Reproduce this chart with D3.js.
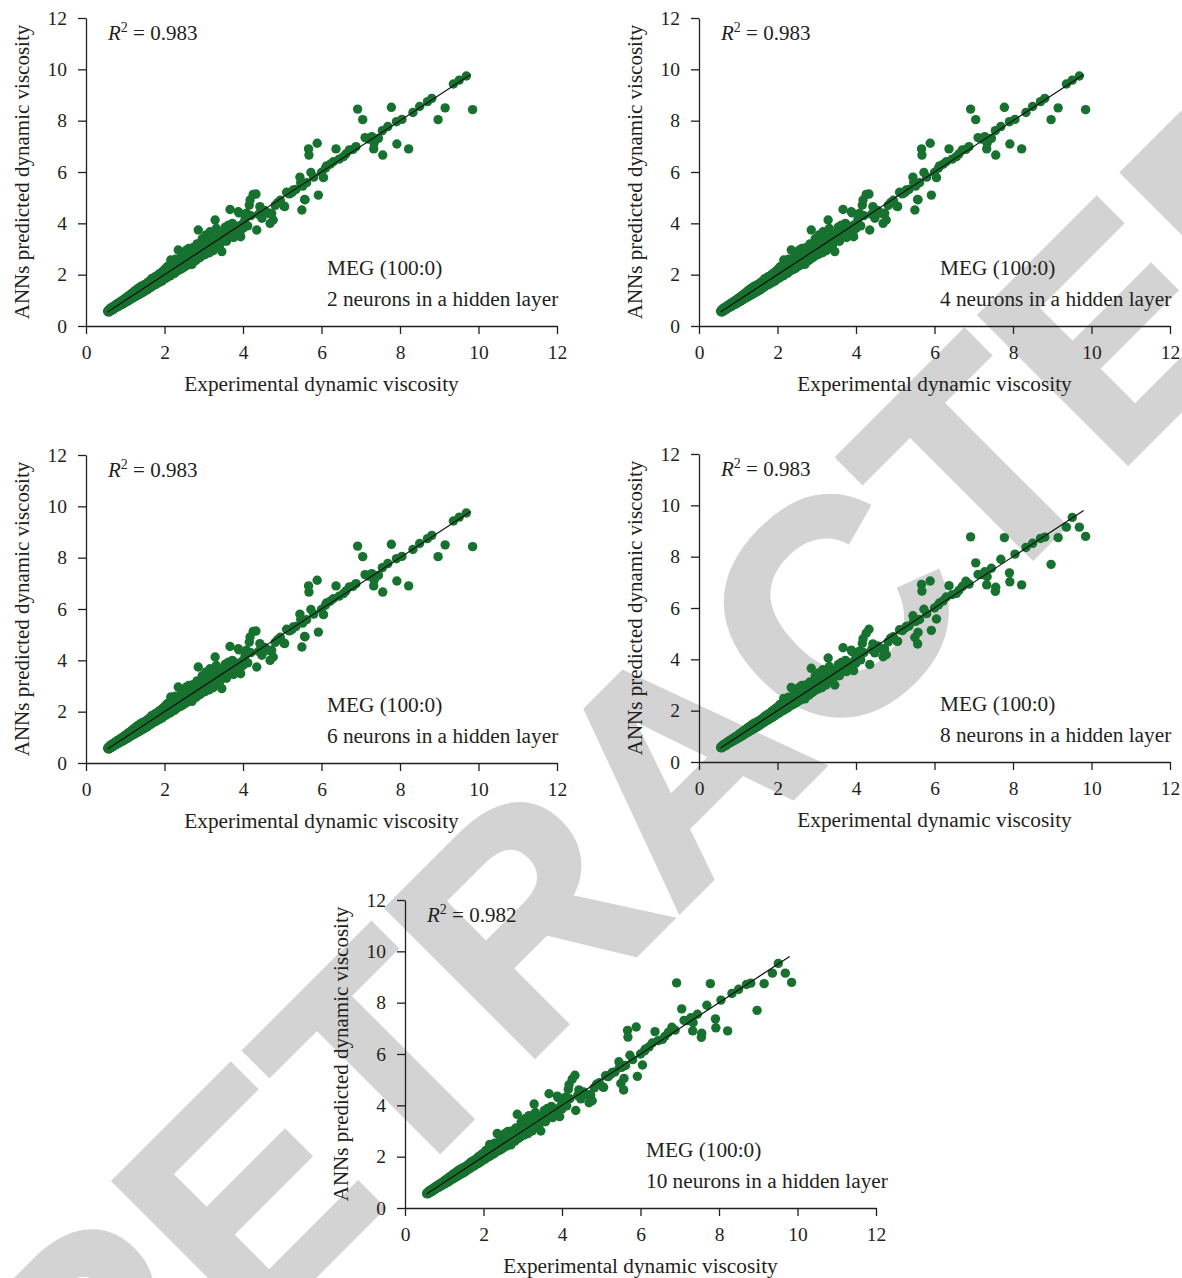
<!DOCTYPE html>
<html>
<head>
<meta charset="utf-8">
<script src="https://cdn.jsdelivr.net/npm/d3@7"></script>
<style>
  body { margin: 0; background: #fff; }
  svg { display: block; }
</style>
</head>
<body>
<svg id="chart" width="1182" height="1278"></svg>
<script>
// Experimental dynamic viscosity (shared by every network)
const expVisc = [
  0.55, 0.57, 0.58, 0.60, 0.61, 0.63, 0.64, 0.66, 0.67, 0.69,
  0.70, 0.72, 0.73, 0.75, 0.76, 0.78, 0.79, 0.81, 0.82, 0.84,
  0.85, 0.87, 0.88, 0.90, 0.91, 0.93, 0.94, 0.96, 0.97, 0.99,
  1.00, 1.02, 1.03, 1.05, 1.06, 1.08, 1.09, 1.11, 1.12, 1.14,
  1.15, 1.17, 1.18, 1.20, 1.21, 1.23, 1.24, 1.26, 1.27, 1.29,
  1.30, 1.32, 1.33, 1.35, 1.36, 1.38, 1.40, 1.42, 1.43, 1.45,
  1.47, 1.48, 1.50, 1.52, 1.54, 1.55, 1.57, 1.59, 1.60, 1.62,
  1.64, 1.65, 1.67, 1.69, 1.70, 1.72, 1.74, 1.76, 1.78, 1.80,
  1.82, 1.84, 1.86, 1.88, 1.90, 1.92, 1.94, 1.96, 1.98, 2.00,
  2.02, 2.04, 2.06, 2.08, 2.10, 2.12, 2.14, 2.16, 2.18, 2.20,
  2.22, 2.25, 2.28, 2.30, 2.33, 2.35, 2.37, 2.40, 2.42, 2.45,
  2.48, 2.50, 2.52, 2.55, 2.57, 2.60, 2.62, 2.65, 2.68, 2.70,
  2.72, 2.75, 2.78, 2.80, 2.83, 2.86, 2.88, 2.90, 2.93, 2.96,
  2.98, 3.00, 3.03, 3.06, 3.08, 3.10, 3.13, 3.16, 3.18, 3.21,
  3.24, 3.27, 3.29, 3.32, 3.35, 3.38, 3.42, 3.46, 3.50, 3.52,
  1.25, 1.55, 1.75, 1.85, 2.05, 2.15, 2.26, 2.38, 2.46, 2.58,
  2.64, 2.74, 2.85, 2.95, 3.02, 3.12, 3.22, 3.40, 3.60, 3.68,
  3.55, 3.58, 3.63, 3.67, 3.70, 3.73, 3.76, 3.80, 3.85, 3.88,
  3.90, 3.94, 3.97, 4.00, 4.05, 4.09, 4.12, 4.16, 4.18, 4.20,
  4.26, 4.33, 4.35, 4.40, 4.43, 4.48, 4.55, 4.60, 4.65, 4.69,
  4.73, 4.77, 4.82, 4.88, 4.95, 5.04, 5.06, 5.11, 5.18, 5.25,
  5.28, 5.35, 5.45, 5.47, 5.50, 5.52, 5.57, 5.58, 5.62, 5.67,
  5.68, 5.73, 5.80, 5.89, 5.92, 6.00, 6.05, 6.10, 6.13, 6.22,
  6.30, 6.37, 6.45, 6.56, 6.62, 6.71, 6.80, 6.88, 6.92, 7.05,
  7.11, 7.20, 7.28, 7.33, 7.34, 7.45, 7.55, 7.56, 7.69, 7.78,
  7.91, 7.92, 8.05, 8.22, 8.33, 8.50, 8.70, 8.81, 8.97, 9.15,
  9.36, 9.51, 9.69, 9.85
];

// ANN predictions with 2, 4 and 6 hidden neurons
const predFewNeurons = [
  0.57, 0.62, 0.54, 0.66, 0.58, 0.70, 0.60, 0.72, 0.63, 0.75,
  0.66, 0.79, 0.69, 0.81, 0.71, 0.85, 0.74, 0.88, 0.76, 0.90,
  0.79, 0.94, 0.82, 0.97, 0.84, 1.00, 0.86, 1.03, 0.90, 1.06,
  0.92, 1.10, 0.95, 1.13, 0.97, 1.17, 1.00, 1.20, 1.03, 1.23,
  1.06, 1.27, 1.08, 1.30, 1.11, 1.35, 1.13, 1.38, 1.16, 1.42,
  1.19, 1.45, 1.21, 1.48, 1.24, 1.52, 1.27, 1.56, 1.30, 1.40,
  1.58, 1.34, 1.62, 1.38, 1.50, 1.66, 1.42, 1.72, 1.47, 1.58,
  1.76, 1.50, 1.84, 1.55, 1.68, 1.86, 1.60, 1.92, 1.62, 1.75,
  1.96, 1.68, 2.02, 1.72, 1.84, 2.08, 1.76, 2.14, 1.82, 1.95,
  2.22, 1.86, 2.30, 1.92, 2.05, 2.35, 1.95, 2.57, 2.00, 2.15,
  2.42, 2.05, 2.60, 2.12, 2.30, 2.96, 2.18, 2.65, 2.22, 2.40,
  2.80, 2.30, 2.58, 2.95, 2.36, 2.55, 3.02, 2.42, 2.75, 2.40,
  3.05, 2.60, 2.88, 2.55, 3.20, 3.74, 2.65, 3.10, 2.70, 3.40,
  2.82, 3.25, 2.78, 3.55, 2.95, 3.30, 2.85, 3.67, 3.05, 3.45,
  2.93, 3.30, 4.13, 3.80, 3.10, 3.55, 3.20, 2.90, 3.61, 3.40,
  1.22, 1.45, 1.70, 1.80, 2.00, 2.25, 2.18, 2.45, 2.25, 2.70,
  2.50, 2.85, 2.75, 2.98, 3.05, 3.15, 3.10, 3.38, 3.70, 3.55,
  3.85, 3.30, 3.93, 4.54, 3.60, 4.00, 3.45, 3.90, 3.70, 4.45,
  4.41, 3.48, 3.95, 3.80, 4.15, 4.39, 3.90, 4.71, 4.91, 4.30,
  5.13, 5.14, 3.74, 4.35, 4.65, 4.20, 4.50, 4.42, 4.39, 4.00,
  4.39, 4.13, 4.70, 4.80, 4.90, 4.68, 4.65, 5.21, 5.15, 5.20,
  5.30, 5.32, 5.80, 5.59, 4.52, 5.45, 4.93, 4.92, 5.58, 6.90,
  6.66, 5.98, 5.80, 7.12, 5.10, 5.98, 5.78, 6.15, 6.24, 6.30,
  6.40, 6.90, 6.50, 6.60, 6.70, 6.86, 6.88, 6.99, 8.45, 8.04,
  7.34, 7.28, 7.38, 6.90, 7.12, 7.31, 7.61, 6.66, 7.77, 8.52,
  7.96, 7.09, 8.05, 6.90, 8.32, 8.55, 8.74, 8.87, 8.04, 8.50,
  9.43, 9.58, 9.74, 8.43
];

// ANN predictions with 8 and 10 hidden neurons
const predManyNeurons = [
  0.56, 0.60, 0.55, 0.64, 0.59, 0.68, 0.62, 0.70, 0.63, 0.74,
  0.67, 0.76, 0.70, 0.80, 0.72, 0.83, 0.75, 0.86, 0.78, 0.89,
  0.80, 0.92, 0.83, 0.95, 0.85, 0.98, 0.88, 1.01, 0.91, 1.04,
  0.93, 1.08, 0.96, 1.11, 0.99, 1.14, 1.01, 1.18, 1.04, 1.21,
  1.07, 1.24, 1.10, 1.28, 1.13, 1.32, 1.15, 1.34, 1.18, 1.38,
  1.21, 1.41, 1.24, 1.45, 1.26, 1.48, 1.30, 1.52, 1.33, 1.41,
  1.55, 1.37, 1.58, 1.41, 1.52, 1.62, 1.45, 1.67, 1.50, 1.60,
  1.72, 1.53, 1.78, 1.58, 1.70, 1.82, 1.62, 1.86, 1.66, 1.78,
  1.92, 1.72, 1.98, 1.76, 1.87, 2.04, 1.80, 2.10, 1.86, 1.98,
  2.16, 1.90, 2.24, 1.96, 2.08, 2.30, 2.00, 2.48, 2.04, 2.18,
  2.36, 2.10, 2.52, 2.16, 2.33, 2.90, 2.22, 2.58, 2.26, 2.44,
  2.72, 2.34, 2.56, 2.90, 2.40, 2.60, 2.98, 2.46, 2.72, 2.46,
  3.00, 2.64, 2.86, 2.60, 3.12, 3.65, 2.70, 3.06, 2.76, 3.35,
  2.86, 3.22, 2.84, 3.48, 3.00, 3.28, 2.90, 3.60, 3.10, 3.40,
  3.00, 3.32, 4.05, 3.72, 3.18, 3.50, 3.25, 3.00, 3.58, 3.44,
  1.24, 1.48, 1.72, 1.82, 2.02, 2.20, 2.22, 2.40, 2.30, 2.66,
  2.55, 2.80, 2.78, 2.95, 3.04, 3.12, 3.15, 3.40, 3.66, 3.60,
  3.80, 3.36, 3.88, 4.45, 3.64, 3.96, 3.52, 3.86, 3.74, 4.36,
  4.30, 3.56, 3.98, 3.86, 4.12, 4.32, 3.98, 4.62, 4.80, 4.26,
  5.02, 5.17, 3.80, 4.38, 4.60, 4.25, 4.52, 4.45, 4.42, 4.10,
  4.40, 4.18, 4.68, 4.82, 4.88, 4.72, 4.70, 5.15, 5.12, 5.22,
  5.28, 5.30, 5.70, 5.50, 4.85, 5.48, 4.60, 5.05, 5.55, 6.92,
  6.66, 5.95, 5.78, 7.05, 5.13, 6.00, 5.57, 6.12, 6.20, 6.28,
  6.43, 6.87, 6.52, 6.57, 6.68, 6.84, 7.04, 6.93, 8.77, 7.76,
  7.31, 7.30, 7.41, 6.90, 7.22, 7.55, 6.65, 6.81, 7.90, 8.74,
  7.37, 7.02, 8.10, 6.90, 8.36, 8.52, 8.71, 8.76, 7.70, 8.74,
  9.15, 9.53, 9.15, 8.79
];

const neuronCounts = [2, 4, 6, 8, 10];
const r2Values = ["0.983", "0.983", "0.983", "0.983", "0.982"];
const tickValues = [0, 2, 4, 6, 8, 10, 12];
const fitLine = [0.55, 9.8];           // y = x reference line, start and end
const fluidLabel = "MEG (100:0)";
const xTitle = "Experimental dynamic viscosity";
const yTitle = "ANNs predicted dynamic viscosity";
const watermark = "RETRACTED";

// ---- layout ----
const svg = d3.select("#chart");
const W = 471, H = 308;
const origins = [[86, 18], [699, 18], [86, 455], [699, 454], [405, 900]];
const serif = "'Liberation Serif', 'Times New Roman', serif";
const ink = "#231f20";
const green = "#17712f";

// Grey diagonal stamp behind the panels (baseline runs at 45° up to the right)
svg.append("text")
  .attr("transform", "translate(752,838) rotate(-45)")
  .attr("text-anchor", "middle")
  .style("font-family", "'Liberation Sans', Arial, sans-serif")
  .style("font-weight", "bold")
  .style("font-size", "302px")
  .style("fill", "#d3d3d3")
  .style("stroke", "#d3d3d3")
  .style("stroke-width", 6)
  .style("stroke-linejoin", "miter")
  .text(watermark);

const x = d3.scaleLinear().domain([0, 12]).range([0, W]);
const y = d3.scaleLinear().domain([0, 12]).range([H, 0]);

neuronCounts.forEach((n, i) => {
  const pred = n <= 6 ? predFewNeurons : predManyNeurons;
  const pts = expVisc.map((v, k) => [v, pred[k]]);
  const g = svg.append("g").attr("transform", `translate(${origins[i][0]},${origins[i][1]})`);

  // axes
  const xa = g.append("g").attr("transform", `translate(0,${H})`)
    .call(d3.axisBottom(x).tickValues(tickValues).tickSize(8).tickPadding(11).tickSizeOuter(0));
  const ya = g.append("g")
    .call(d3.axisLeft(y).tickValues(tickValues).tickSize(8).tickPadding(11).tickSizeOuter(0));
  [xa, ya].forEach(a => {
    a.select(".domain").attr("stroke", ink).attr("stroke-width", 1.3);
    a.selectAll(".tick line").attr("stroke", ink).attr("stroke-width", 1.3);
    a.selectAll(".tick text").attr("fill", ink)
      .style("font-family", serif).style("font-size", "19.5px");
  });

  // points
  g.append("g").selectAll("circle").data(pts).join("circle")
    .attr("cx", d => x(d[0])).attr("cy", d => y(d[1]))
    .attr("r", 4.7).attr("fill", green);

  // y = x line
  g.append("line")
    .attr("x1", x(fitLine[0])).attr("y1", y(fitLine[0]))
    .attr("x2", x(fitLine[1])).attr("y2", y(fitLine[1]))
    .attr("stroke", "#111").attr("stroke-width", 1.2);

  // titles
  g.append("text")
    .attr("x", W / 2).attr("y", H + 65)
    .attr("text-anchor", "middle")
    .style("font-family", serif).style("font-size", "21.3px").attr("fill", ink)
    .text(xTitle);
  g.append("text")
    .attr("transform", `translate(-57,${H / 2}) rotate(-90)`)
    .attr("text-anchor", "middle")
    .style("font-family", serif).style("font-size", "21px").attr("fill", ink)
    .text(yTitle);

  // R² annotation
  const r2 = g.append("text").attr("x", 22).attr("y", 22)
    .style("font-family", serif).style("font-size", "21px").attr("fill", ink);
  r2.append("tspan").style("font-style", "italic").text("R");
  r2.append("tspan").attr("dy", -8).style("font-size", "14px").text("2");
  r2.append("tspan").attr("dy", 8).text(" = " + r2Values[i]);

  // model description
  g.append("text").attr("x", 241).attr("y", 257)
    .style("font-family", serif).style("font-size", "21.3px").attr("fill", ink)
    .text(fluidLabel);
  g.append("text").attr("x", 241).attr("y", 288)
    .style("font-family", serif).style("font-size", "21.3px").attr("fill", ink)
    .text(`${n} neurons in a hidden layer`);
});
</script>
</body>
</html>
